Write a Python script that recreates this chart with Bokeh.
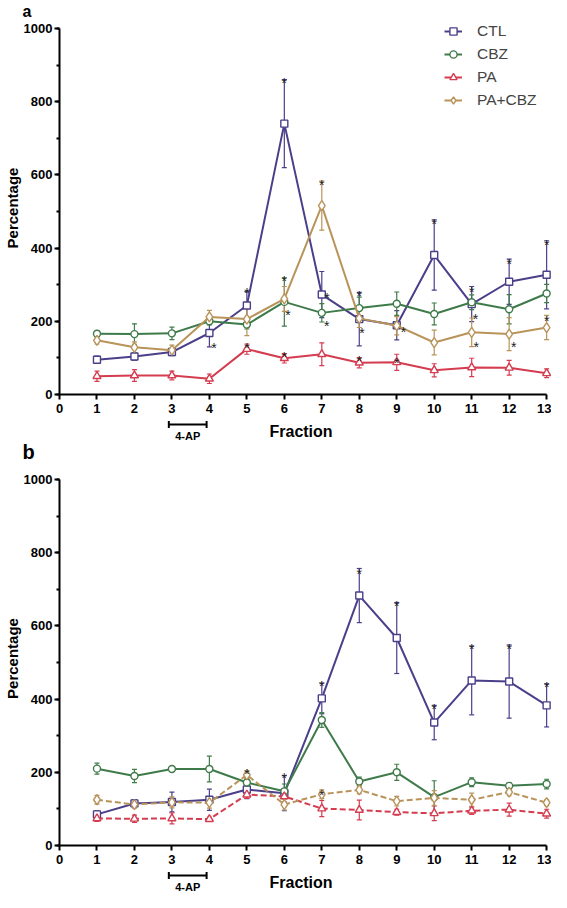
from bokeh.plotting import figure
from bokeh.layouts import column
from bokeh.models import (Range1d, FixedTicker, SingleIntervalTicker, Whisker, TeeHead,
                          ColumnDataSource, Legend, LegendItem)
from bokeh.core.properties import value
from bokeh.embed import file_html
from bokeh.resources import INLINE

# ---------------- data ----------------
fractions = [1, 2, 3, 4, 5, 6, 7, 8, 9, 10, 11, 12, 13]
x_ticks = [0, 1, 2, 3, 4, 5, 6, 7, 8, 9, 10, 11, 12, 13]
series_names = ["CTL", "CBZ", "PA", "PA+CBZ"]

# panel a
ctl_a = [95, 104, 116, 168, 243, 740, 273, 206, 189, 381, 247, 308, 327]
ctl_a_err = [10, 10, 10, 38, 38, 120, 63, 73, 40, 96, 48, 62, 93]
cbz_a = [166, 165, 167, 200, 191, 253, 223, 236, 248, 220, 252, 233, 276]
cbz_a_err = [8, 28, 17, 10, 12, 66, 25, 30, 32, 30, 20, 40, 25]
pa_a = [50, 52, 52, 43, 124, 99, 110, 87, 88, 66, 74, 73, 58]
pa_a_err = [14, 16, 12, 13, 14, 13, 31, 14, 22, 18, 25, 20, 12]
pacbz_a = [148, 129, 121, 212, 206, 261, 516, 208, 188, 142, 170, 165, 183]
pacbz_a_err = [10, 15, 14, 18, 45, 34, 67, 25, 25, 34, 39, 45, 33]
star_a_x = [4.12, 5, 5, 6, 6, 6, 6.1, 7, 7.14, 7.13, 8, 8.07, 8, 9, 9.18, 10, 11, 11.1, 11.12, 12, 12.12, 13, 13]
star_a_y = [150, 300, 149, 873, 331, 125, 239, 593, 286, 209, 291, 189, 113, 109, 192, 489, 302, 227, 152, 378, 152, 431, 222]

# panel b
ctl_b = [85, 115, 119, 125, 153, 143, 402, 683, 567, 336, 451, 448, 383]
ctl_b_err = [10, 10, 27, 29, 25, 48, 42, 74, 97, 47, 94, 100, 59]
cbz_b = [210, 190, 209, 209, 172, 148, 343, 175, 200, 132, 173, 163, 168]
cbz_b_err = [15, 18, 5, 35, 10, 20, 20, 12, 22, 45, 12, 8, 13]
pa_b = [74, 73, 74, 72, 139, 134, 101, 97, 91, 88, 95, 98, 87]
pa_b_err = [8, 10, 15, 5, 10, 15, 22, 27, 8, 20, 10, 18, 12]
pacbz_b = [125, 112, 118, 117, 193, 112, 140, 152, 121, 130, 125, 146, 117]
pacbz_b_err = [12, 10, 15, 15, 12, 15, 12, 10, 13, 20, 18, 10, 8]
star_b_x = [5, 6, 7, 7, 8, 9, 10, 11, 12, 13]
star_b_y = [216, 205, 458, 160, 765, 677, 396, 560, 560, 455]

ap_start, ap_end, ap_label = 3, 4, "4-AP"
x_title, y_title = "Fraction", "Percentage"

# ---------------- style / layout ----------------
FONT = "Liberation Sans"
colors = {"CTL": "#4b3f8a", "CBZ": "#3f7b4a", "PA": "#d43c50", "PA+CBZ": "#b8935a"}
markers = {"CTL": "square", "CBZ": "circle", "PA": "triangle", "PA+CBZ": "diamond"}
msize = {"CTL": 7, "CBZ": 7, "PA": 8, "PA+CBZ": 10}

W = 551
BL = 55            # left border (room for y axis)
FW = W - BL        # frame width
X_END = 13.13
X_START_FULL = -BL * X_END / FW   # same x scale, extended to the figure's left edge
LETTER_X = -0.874


def no_align(p):
    try:
        p.frame_align = False
    except Exception:
        pass


def strip(h):
    s = figure(width=W, height=h, output_backend="svg", toolbar_location=None,
               x_range=Range1d(X_START_FULL, X_END), y_range=Range1d(0, h),
               x_axis_location=None, y_axis_location=None,
               min_border_left=0, min_border_right=0, min_border_top=0, min_border_bottom=0)
    no_align(s)
    s.outline_line_color = None
    s.xgrid.visible = False
    s.ygrid.visible = False
    return s


def add_text(s, x, y, t, size, align="center", baseline="middle"):
    src = ColumnDataSource(dict(x=[x], y=[y], t=[t]))
    s.text("x", "y", text="t", source=src, text_font=value(FONT), text_font_size=size,
           text_font_style="bold", text_color="black",
           text_align=align, text_baseline=baseline)


def bracket_strip(h, y_br, y_ap, y_fr, letter=None, y_letter=None):
    s = strip(h)
    s.segment(x0=[ap_start], y0=[y_br], x1=[ap_end], y1=[y_br], line_color="black", line_width=2)
    s.segment(x0=[ap_start, ap_end], y0=[y_br - 3.5] * 2, x1=[ap_start, ap_end], y1=[y_br + 3.5] * 2,
              line_color="black", line_width=2)
    add_text(s, (ap_start + ap_end) / 2, y_ap, ap_label, "11px")
    add_text(s, 6.5, y_fr, x_title, "16px")
    if letter:
        add_text(s, LETTER_X, y_letter, letter, "20px", align="left", baseline="alphabetic")
    return s


def make_panel(data, dashed, star_x, star_y, frame_h, y_end, show_legend):
    p = figure(width=W, height=frame_h + 25, output_backend="svg", toolbar_location=None,
               x_range=Range1d(0, X_END), y_range=Range1d(0, y_end),
               min_border_left=BL, min_border_right=0, min_border_top=0,
               min_border_bottom=25)
    no_align(p)
    p.outline_line_color = None
    p.xgrid.visible = False
    p.ygrid.visible = False

    items = []
    for name in series_names:
        vals, errs = data[name]
        src = ColumnDataSource(dict(x=fractions, y=vals,
                                    upper=[v + e for v, e in zip(vals, errs)],
                                    lower=[v - e for v, e in zip(vals, errs)]))
        c = colors[name]
        w = Whisker(source=src, base="x", upper="upper", lower="lower", dimension="height",
                    line_color=c, line_width=1.2, level="underlay",
                    upper_head=TeeHead(size=5, line_color=c, line_width=1.2),
                    lower_head=TeeHead(size=5, line_color=c, line_width=1.2))
        p.add_layout(w)
        dash = "6 3" if name in dashed else "solid"
        lr = p.line("x", "y", source=src, line_color=c, line_width=2, line_dash=dash)
        sr = p.scatter("x", "y", source=src, marker=markers[name], size=msize[name],
                       line_color=c, line_width=1.4, fill_color="white")
        items.append(LegendItem(label=name, renderers=[lr, sr]))

    ssrc = ColumnDataSource(dict(x=star_x, y=star_y, t=["*"] * len(star_x)))
    p.text("x", "y", text="t", source=ssrc, text_font=value(FONT), text_font_size="14px",
           text_color="#222222", text_align="center", text_baseline="alphabetic", y_offset=8)

    if show_legend:
        n = len(items)
        leg_h = n * 20 + (n - 1) * 3
        leg = Legend(items=items, location=(385, frame_h - leg_h), glyph_width=18, glyph_height=20,
                     label_height=20, spacing=3, label_standoff=15, padding=0, margin=0,
                     label_text_font=FONT, label_text_font_size="15.5px",
                     border_line_alpha=0, background_fill_alpha=0)
        p.add_layout(leg)

    for ax in (p.xaxis[0], p.yaxis[0]):
        ax.axis_line_width = 2
        ax.axis_line_color = "black"
        ax.major_tick_line_width = 2
        ax.major_tick_line_color = "black"
        ax.major_tick_out = 5
        ax.major_tick_in = 0
        ax.major_label_text_font = FONT
        ax.major_label_text_font_style = "bold"
        ax.major_label_text_font_size = "13px"
        ax.major_label_text_color = "black"
    p.xaxis.ticker = FixedTicker(ticks=x_ticks)
    p.xaxis.bounds = (0, 13)
    p.xaxis.major_label_standoff = 4
    p.yaxis.ticker = SingleIntervalTicker(interval=200, num_minor_ticks=2)
    p.yaxis.bounds = (0, 1000)
    p.yaxis.minor_tick_out = 3
    p.yaxis.minor_tick_in = 0
    p.yaxis.minor_tick_line_width = 2
    p.yaxis.minor_tick_line_color = "black"
    p.yaxis.major_label_standoff = 2
    p.yaxis.axis_label = y_title
    p.yaxis.axis_label_standoff = 0
    p.yaxis.axis_label_text_font = FONT
    p.yaxis.axis_label_text_font_style = "bold"
    p.yaxis.axis_label_text_font_size = "15px"
    p.yaxis.axis_label_text_color = "black"
    return p


top_a = strip(21)
add_text(top_a, LETTER_X, 10.5, "a", "16px", align="left", baseline="middle")

fig_a = make_panel({"CTL": (ctl_a, ctl_a_err), "CBZ": (cbz_a, cbz_a_err),
                    "PA": (pa_a, pa_a_err), "PA+CBZ": (pacbz_a, pacbz_a_err)},
                   set(), star_a_x, star_a_y, 373, 1019, True)
mid = bracket_strip(52, 47, 36, 40, letter="b", y_letter=20)
fig_b = make_panel({"CTL": (ctl_b, ctl_b_err), "CBZ": (cbz_b, cbz_b_err),
                    "PA": (pa_b, pa_b_err), "PA+CBZ": (pacbz_b, pacbz_b_err)},
                   {"PA", "PA+CBZ"}, star_b_x, star_b_y, 374, 1022, False)
bottom = bracket_strip(22, 17, 6, 10)

layout = column(top_a, fig_a, mid, fig_b, bottom, spacing=0)
open("out.html", "w").write(file_html(layout, INLINE))
